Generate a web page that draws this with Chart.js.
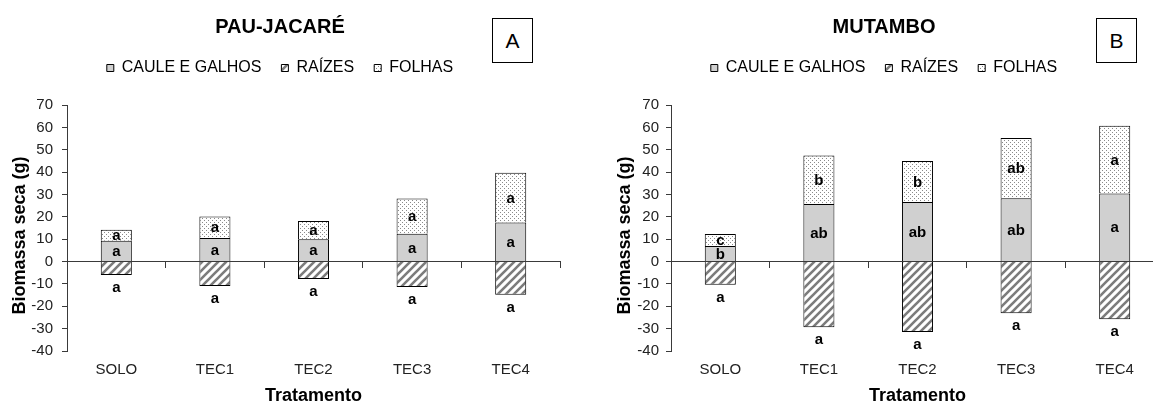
<!DOCTYPE html>
<html>
<head>
<meta charset="utf-8">
<script src="https://cdn.jsdelivr.net/npm/chart.js@4/dist/chart.umd.min.js"></script>
<style>
    html, body { margin: 0; padding: 0; overflow: hidden; background: #fff; }
    body { position: relative; width: 1153px; height: 402px; }
    canvas { position: absolute; top: 0; }
    .tag {
        position: absolute; top: 18px; width: 41px; height: 45px; box-sizing: border-box;
        border: 1.5px solid #000; background: #fff;
        font: 21px "Liberation Sans", Arial, sans-serif; color: #000;
        display: flex; align-items: center; justify-content: center;
    }
</style>
</head>
<body>
<canvas id="pauChart" width="562" height="402" style="left:0"></canvas>
<canvas id="mutChart" width="560" height="402" style="left:604px"></canvas>
<div class="tag" style="left:492px">A</div>
<div class="tag" style="left:1096px">B</div>
<script>
const categories = ['SOLO', 'TEC1', 'TEC2', 'TEC3', 'TEC4'];
const seriesNames = ['CAULE E GALHOS', 'RAÍZES', 'FOLHAS'];
const yTicks = { min: -40, max: 70, step: 10 };

// PAU-JACARÉ (g)
const pauCaule = [9.3, 10.5, 10.0, 12.4, 17.5];
const pauRaizes = [-6.0, -10.9, -7.8, -11.4, -14.8];
const pauFolhas = [4.9, 9.6, 8.1, 15.8, 22.2];
const pauLetrasCaule = ['a', 'a', 'a', 'a', 'a'];
const pauLetrasRaizes = ['a', 'a', 'a', 'a', 'a'];
const pauLetrasFolhas = ['a', 'a', 'a', 'a', 'a'];

// MUTAMBO (g)
const mutCaule = [7.0, 25.7, 26.6, 28.3, 30.4];
const mutRaizes = [-10.4, -29.4, -31.5, -23.1, -25.8];
const mutFolhas = [5.3, 21.7, 18.4, 26.9, 30.3];
const mutLetrasCaule = ['b', 'ab', 'ab', 'ab', 'a'];
const mutLetrasRaizes = ['a', 'a', 'a', 'a', 'a'];
const mutLetrasFolhas = ['c', 'b', 'b', 'ab', 'a'];

const FONT = '"Liberation Sans", Arial, sans-serif';
const axisColor = '#3a3a3a';

function hatchPattern() {
    const c = document.createElement('canvas');
    c.width = 8; c.height = 8;
    const g = c.getContext('2d');
    g.fillStyle = '#fff';
    g.fillRect(0, 0, 8, 8);
    g.strokeStyle = '#7c7c7c';
    g.lineWidth = 2.6;
    g.beginPath();
    g.moveTo(-1, 9); g.lineTo(9, -1);
    g.moveTo(-1, 1); g.lineTo(1, -1);
    g.moveTo(7, 9); g.lineTo(9, 7);
    g.stroke();
    return g.createPattern(c, 'repeat');
}

function dotPattern() {
    const c = document.createElement('canvas');
    c.width = 4; c.height = 4;
    const g = c.getContext('2d');
    g.fillStyle = '#fff';
    g.fillRect(0, 0, 4, 4);
    g.fillStyle = '#8a8a8a';
    g.fillRect(0, 0, 1, 1);
    g.fillRect(2, 2, 1, 1);
    return g.createPattern(c, 'repeat');
}

// letters of the significance test, drawn on each segment
const letterPlugin = {
    id: 'letters',
    afterDatasetsDraw(chart) {
        const ctx = chart.ctx;
        ctx.save();
        ctx.font = 'bold 15px ' + FONT;
        ctx.fillStyle = '#000';
        ctx.textAlign = 'center';
        ctx.textBaseline = 'middle';
        chart.data.datasets.forEach((ds, i) => {
            chart.getDatasetMeta(i).data.forEach((bar, j) => {
                const y = ds.data[j] < 0 ? bar.y + 13 : (bar.y + bar.base) / 2 + 1;
                ctx.fillText(ds.letters[j], bar.x, y);
            });
        });
        ctx.restore();
    }
};

function buildChart(id, title, caule, raizes, folhas, letras, opts) {
    const ctx = document.getElementById(id).getContext('2d');
    const base = {
        borderColor: '#000',
        borderWidth: 1,
        barPercentage: 0.315,
        categoryPercentage: 1,
        xAxisID: 'x',
        yAxisID: 'y'
    };
    return new Chart(ctx, {
        type: 'bar',
        data: {
            labels: categories,
            datasets: [
                { ...base, label: seriesNames[0], data: caule, letters: letras[0], backgroundColor: '#d0d0d0' },
                { ...base, label: seriesNames[1], data: raizes, letters: letras[1], backgroundColor: hatchPattern() },
                { ...base, label: seriesNames[2], data: folhas, letters: letras[2], backgroundColor: dotPattern() }
            ]
        },
        options: {
            responsive: false,
            animation: false,
            layout: { padding: { left: 0, right: opts.padRight, top: 0, bottom: 0 } },
            plugins: {
                title: {
                    display: true,
                    text: title,
                    color: '#000',
                    font: { family: FONT, size: 20, weight: 'bold', lineHeight: 1.2 },
                    padding: { top: 15, bottom: 1 }
                },
                legend: {
                    display: true,
                    position: 'top',
                    labels: {
                        color: '#000',
                        font: { family: FONT, size: 16 },
                        boxWidth: 7,
                        boxHeight: 7,
                        padding: 20
                    }
                },
                // empty spacer between legend and plot area
                subtitle: {
                    display: true,
                    text: ' ',
                    weight: 500,
                    font: { size: 10, lineHeight: 1 },
                    padding: { top: 0, bottom: 9 }
                },
                tooltip: { enabled: false }
            },
            scales: {
                x: {
                    type: 'category',
                    position: { y: 0 },
                    stacked: true,
                    offset: true,
                    ticks: { display: false },
                    grid: { offset: true, drawOnChartArea: false, drawTicks: true, tickLength: 6, color: axisColor },
                    border: { color: axisColor }
                },
                x2: {
                    type: 'category',
                    position: 'bottom',
                    offset: true,
                    grid: { display: false, drawTicks: false },
                    border: { display: false },
                    ticks: { padding: 10, color: '#222', font: { family: FONT, size: 15 } },
                    title: {
                        display: true,
                        text: 'Tratamento',
                        color: '#000',
                        font: { family: FONT, size: 18, weight: 'bold' },
                        padding: { top: 0, bottom: -5 }
                    },
                    afterFit: (s) => { s.height = 51; }
                },
                y: {
                    stacked: true,
                    min: yTicks.min,
                    max: yTicks.max,
                    ticks: { stepSize: yTicks.step, padding: opts.tickPad, color: '#222', font: { family: FONT, size: 15 } },
                    grid: { drawOnChartArea: false, drawTicks: true, tickLength: 5, color: axisColor },
                    border: { color: axisColor },
                    title: {
                        display: true,
                        text: 'Biomassa seca (g)   ',
                        color: '#000',
                        font: { family: FONT, size: 18, weight: 'bold' },
                        padding: { top: opts.titlePad, bottom: 0 }
                    },
                    afterFit: (s) => { s.width = 67; }
                }
            }
        },
        plugins: [letterPlugin]
    });
}

buildChart('pauChart', 'PAU-JACARÉ', pauCaule, pauRaizes, pauFolhas,
    [pauLetrasCaule, pauLetrasRaizes, pauLetrasFolhas], { padRight: 2, tickPad: 9, titlePad: 9 });
buildChart('mutChart', 'MUTAMBO', mutCaule, mutRaizes, mutFolhas,
    [mutLetrasCaule, mutLetrasRaizes, mutLetrasFolhas], { padRight: 0, tickPad: 7, titlePad: 10 });
</script>
</body>
</html>
